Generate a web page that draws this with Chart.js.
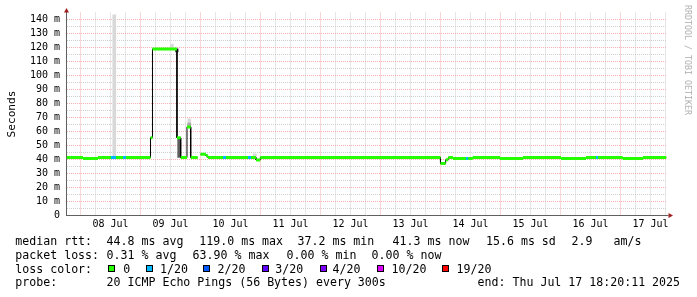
<!DOCTYPE html>
<html><head><meta charset="utf-8">
<script src="https://cdn.jsdelivr.net/npm/chart.js@4/dist/chart.umd.min.js"></script>
<style>
html,body{margin:0;padding:0;background:#fff;}
#wrap{position:relative;width:697px;height:297px;overflow:hidden;background:#fff;}
#c{position:absolute;left:0;top:0;}
.t{position:absolute;font-family:"DejaVu Sans Mono",monospace;font-size:11.6px;line-height:14px;white-space:pre;color:#000;}
.sq{position:absolute;box-sizing:border-box;width:7px;height:7px;border:1px solid #000;}
#wm{position:absolute;left:692px;top:4.5px;transform-origin:0 0;transform:rotate(90deg);font-family:"DejaVu Sans Mono",monospace;font-size:8.3px;line-height:8.3px;white-space:pre;color:#b0b0b0;}
</style></head>
<body><div id="wrap"><canvas id="c" width="697" height="297"></canvas><div id="legend"></div><div id="wm">RRDTOOL / TOBI OETIKER</div></div>
<script>
// ---- data (x = day of July 2025, decimal) ----
const xMin = 7.767, xMax = 17.767;            // Jul 7 18:24 .. Jul 17 18:24
const dayTicks  = [8, 9, 10, 11, 12, 13, 14, 15, 16, 17];
const dayLabels = ['08 Jul','09 Jul','10 Jul','11 Jul','12 Jul','13 Jul','14 Jul','15 Jul','16 Jul','17 Jul'];
const yTickValues = [0,5,10,15,20,25,30,35,40,45,50,55,60,65,70,75,80,85,90,95,100,105,110,115,120,125,130,135,140];

// median rtt runs: start time, median (ms), loss (pings lost of 20)
const runStart  = [7.767, 8.042, 8.292, 8.508, 8.592, 8.708, 8.758, 9.167, 9.200, 9.608, 9.670, 9.775, 9.837, 9.953,
                   10.000, 10.092, 10.125, 10.375, 10.425, 10.792, 10.842, 10.925, 10.997, 14.000, 14.087, 14.130,
                   14.208, 14.425, 14.463, 14.537, 14.992, 15.375, 16.008, 16.425, 16.592, 16.625, 17.037, 17.375];
const runEnd = 17.767;
const runMedian = [41.4, 40.7, 41.4, 41.4, 41.4, 41.4, 41.4, 55.6, 119.0, 55.5, 41.4, 63.3, 41.4, null,
                   43.8, 42.6, 41.4, 41.4, 41.4, 41.4, 41.4, 39.7, 41.4, 37.2, 39.8, 41.4,
                   40.7, 40.7, 40.7, 41.4, 40.7, 41.4, 40.7, 41.4, 41.4, 41.4, 40.7, 41.4];
const runLoss   = [0, 0, 0, 1, 0, 1, 0, 0, 0, 0, 0, 0, 0, 0,
                   0, 0, 0, 1, 0, 1, 0, 0, 0, 0, 0, 0,
                   0, 1, 0, 0, 0, 0, 0, 0, 1, 0, 0, 0];

// smoke (ping spread) per step: time, low, high
const smokeLightX = [8.563, 9.525, 9.812, 10.905];
const smokeLightLo = [41.4, 119.0, 66.0, 41.4];
const smokeLightHi = [143.4, 122.5, 69.0, 44.0];
const smokeMidX = [9.812];
const smokeMidLo = [63.3];
const smokeMidHi = [66.0];
const smokeDarkX = [9.605, 9.645];
const smokeDarkLo = [116.8, 41.4];
const smokeDarkHi = [119.0, 54.8];

// legend
const lossLevels = [0, 1, 2, 3, 4, 10, 19];
const lossLabels = ['0', '1/20', '2/20', '3/20', '4/20', '10/20', '19/20'];
const rttStats  = ['44.8 ms avg', '119.0 ms max', '37.2 ms min', '41.3 ms now', '15.6 ms sd', '2.9   am/s'];
const lossStats = ['0.31 % avg', '63.90 % max', '0.00 % min', '0.00 % now'];
const probeText = '20 ICMP Echo Pings (56 Bytes) every 300s';
const endText = 'end: Thu Jul 17 18:20:11 2025';

// ---- styles ----
const lossColors = ['#26ff00', '#00b8ff', '#0059ff', '#5e00ff', '#7e00ff', '#dd00ff', '#ff0000'];
const gridMinor = '#d0d0d0', gridMajor = '#f3b0b0', axisColor = '#606060', arrowColor = '#a02020';
const mono = '"DejaVu Sans Mono", monospace';

// ---- build datasets ----
const runs = runStart.map((s, i) => ({s, e: i + 1 < runStart.length ? runStart[i + 1] : runEnd, v: runMedian[i], l: runLoss[i]}));
const blackPts = [];
runs.forEach(r => {
  if (r.v === null) { blackPts.push({x: r.s, y: null}); return; }
  blackPts.push({x: r.s, y: r.v}, {x: r.e, y: r.v});
});
const bandSets = lossLevels.map((lv, k) => {
  const pts = [];
  runs.filter(r => r.l === lv && r.v !== null).forEach(r => pts.push({x: r.s, y: r.v}, {x: r.e, y: r.v}, {x: r.e, y: null}));
  return {type: 'line', data: pts, borderColor: lossColors[k], borderWidth: 3, pointRadius: 0, tension: 0,
          borderCapStyle: 'butt', spanGaps: false, fill: false, order: 0};
}).filter(d => d.data.length);
const smoke = (xs, lo, hi, color) => ({type: 'bar', data: xs.map((x, i) => ({x, y: [lo[i], hi[i]]})),
  backgroundColor: color, borderWidth: 0, barThickness: 3, grouped: false, order: 3});

const xGrid = [];
for (let v = Math.ceil(xMin * 4) / 4; v <= xMax; v += 0.25) xGrid.push(v);

const arrows = {
  id: 'arrows',
  afterDraw(chart) {
    const {ctx, chartArea: a} = chart;
    ctx.save();
    ctx.strokeStyle = axisColor; ctx.lineWidth = 1;
    ctx.beginPath();
    ctx.moveTo(a.left, a.top + 1); ctx.lineTo(a.left, a.top - 1);
    ctx.moveTo(a.right - 1, a.bottom); ctx.lineTo(a.right + 2, a.bottom);
    ctx.stroke();
    ctx.fillStyle = arrowColor;
    ctx.beginPath();
    ctx.moveTo(a.left - 2.5, a.top); ctx.lineTo(a.left + 2.5, a.top); ctx.lineTo(a.left, a.top - 4.5); ctx.closePath(); ctx.fill();
    ctx.beginPath();
    ctx.moveTo(a.right + 2, a.bottom - 2.5); ctx.lineTo(a.right + 2, a.bottom + 2.5); ctx.lineTo(a.right + 6.5, a.bottom); ctx.closePath(); ctx.fill();
    ctx.restore();
  }
};

new Chart(document.getElementById('c'), {
  type: 'line',
  data: {datasets: [
    ...bandSets,
    {type: 'line', data: blackPts, borderColor: '#000', borderWidth: 1, pointRadius: 0, tension: 0, spanGaps: false, fill: false, order: 1},
    smoke(smokeDarkX, smokeDarkLo, smokeDarkHi, '#5c5c5c'),
    smoke(smokeMidX, smokeMidLo, smokeMidHi, '#a8a8a8'),
    smoke(smokeLightX, smokeLightLo, smokeLightHi, '#d9d9d9')
  ]},
  options: {
    responsive: false, animation: false, devicePixelRatio: 1, events: [],
    layout: {padding: {left: 0, right: 30.5, top: 12.5, bottom: 65}},
    plugins: {legend: {display: false}, tooltip: {enabled: false}},
    scales: {
      x: {
        type: 'linear', min: xMin, max: xMax, offset: false,
        afterBuildTicks: s => { s.ticks = xGrid.map(v => ({value: v})); },
        afterFit: s => { s.height = 16.5; },
        grid: {color: c => (c.tick && Number.isInteger(c.tick.value)) ? gridMajor : gridMinor, lineWidth: 1, drawTicks: false, offset: false},
        border: {display: true, color: axisColor, width: 1, dash: [1, 1]},
        ticks: {autoSkip: false, maxRotation: 0, minRotation: 0, padding: 3, color: '#000',
                font: {family: mono, size: 10},
                callback: v => { const i = dayTicks.indexOf(v - 0.5); return i >= 0 ? dayLabels[i] : ''; }}
      },
      y: {
        type: 'linear', min: 0, max: 145,
        afterBuildTicks: s => { s.ticks = yTickValues.map(v => ({value: v})); },
        afterFit: s => { s.width = 66.5; },
        grid: {color: c => (c.tick && c.tick.value % 10 === 0) ? gridMajor : gridMinor, lineWidth: 1, drawTicks: false},
        border: {display: true, color: axisColor, width: 1, dash: [1, 1]},
        ticks: {autoSkip: false, padding: 6.5, color: '#000', font: {family: mono, size: 10},
                callback: v => v === 0 ? '0' : (v % 10 === 0 ? v + ' m' : '')},
        title: {display: true, text: 'Seconds', color: '#000', font: {family: mono, size: 11.2}, padding: {top: 5, bottom: 0}}
      }
    }
  },
  plugins: [arrows]
});

// ---- legend (HTML text) ----
const lg = document.getElementById('legend');
const rowTop = [234, 247.7, 261.5, 275];
const put = (txt, x, y) => { const d = document.createElement('div'); d.className = 't'; d.textContent = txt; d.style.left = x + 'px'; d.style.top = y + 'px'; lg.appendChild(d); };
put('median rtt:', 15.3, rowTop[0]);
put('packet loss:', 15.3, rowTop[1]);
put('loss color:', 15.3, rowTop[2]);
put('probe:', 15.3, rowTop[3]);
const rttX = [106.6, 199.3, 297.5, 392.6, 486, 571.6];
rttStats.forEach((t, i) => put(t, rttX[i], rowTop[0]));
const lossX = [106.6, 192.6, 286.6, 371.6];
lossStats.forEach((t, i) => put(t, lossX[i], rowTop[1]));
const sqX = [108.3, 145.7, 203.3, 261.7, 320, 377.3, 442.3];
const lossLabelX = [123.3, 160, 217.6, 275.3, 332.6, 391.6, 456.6];
lossLabels.forEach((t, i) => {
  const s = document.createElement('div'); s.className = 'sq'; s.style.left = sqX[i] + 'px'; s.style.top = '265.3px'; s.style.background = lossColors[i]; lg.appendChild(s);
  put(t, lossLabelX[i], rowTop[2]);
});
put(probeText, 106.6, rowTop[3]);
put(endText, 477.6, rowTop[3]);
</script>
</body></html>
